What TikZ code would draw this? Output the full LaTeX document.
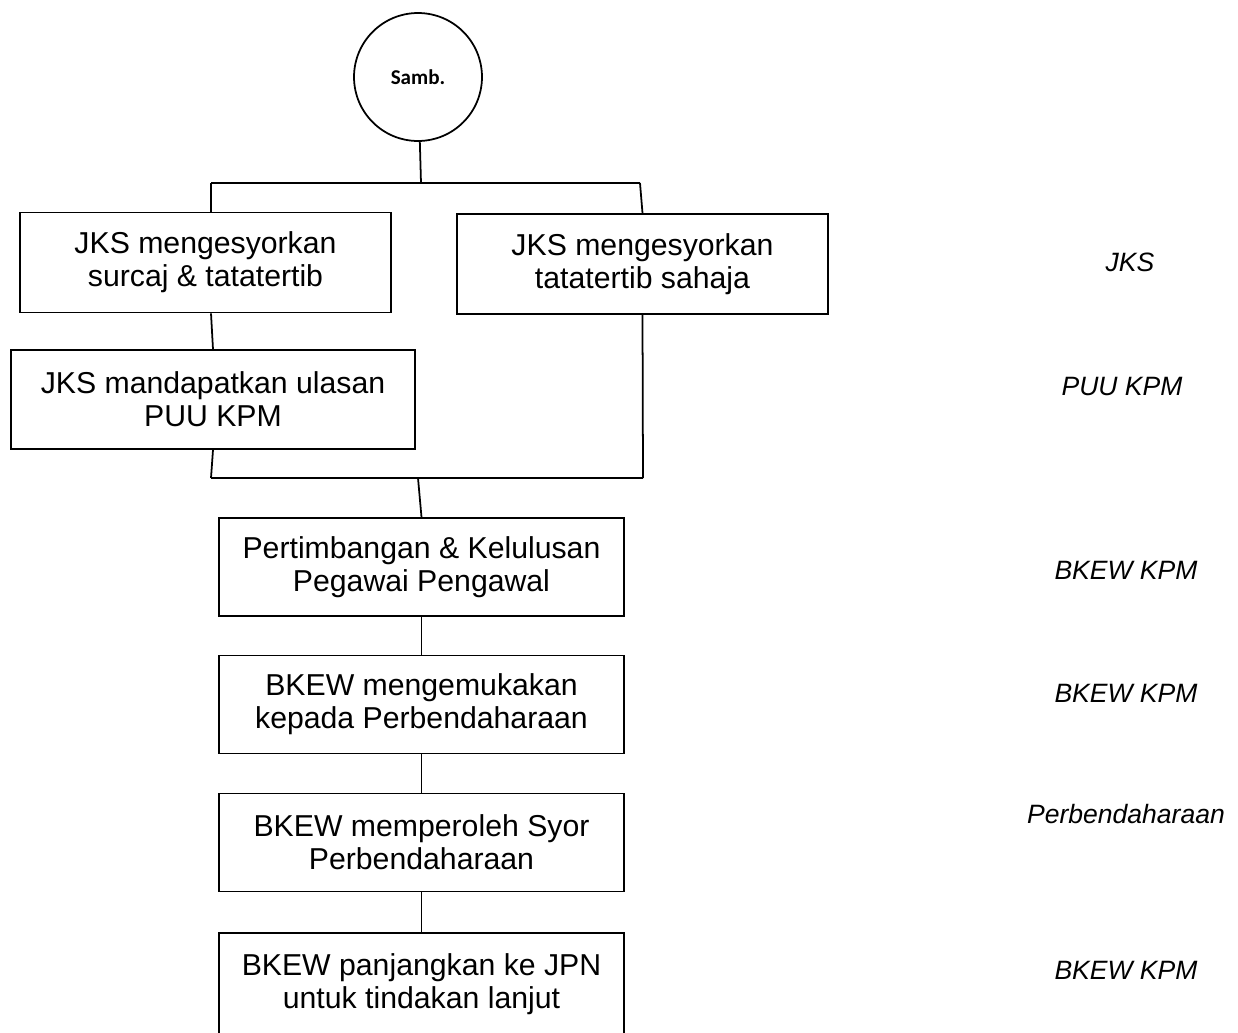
\documentclass[tikz,border=0pt]{standalone}
\usepackage{fontspec}
\setmainfont{Liberation Sans}
\newfontfamily\sambfont{Carlito}
\begin{document}
\begin{tikzpicture}[x=0.02cm, y=-0.02cm, line width=1pt,
  every node/.style={font=\fontsize{17.2}{18.7}\selectfont},
  stepbox/.style={draw, rectangle, align=center, minimum width=8.1cm, minimum height=1.96cm, inner sep=0pt},
  who/.style={font=\fontsize{15.1}{17}\selectfont\itshape}]
\clip (0,0) rectangle (1238,1032);
\node[circle, draw, minimum size=2.56cm, inner sep=0pt, font=\sambfont\bfseries\fontsize{12}{14}\selectfont] (samb) at (418,77){Samb.};
\node[stepbox, minimum width=7.42cm, minimum height=2cm] (jks1) at (205.5,262.5){JKS mengesyorkan\\surcaj \& tatatertib};
\node[stepbox, minimum width=7.42cm, minimum height=2cm] (jks2) at (642.5,264){JKS mengesyorkan\\tatatertib sahaja};
\node[stepbox, minimum width=8.08cm, minimum height=1.98cm] (puu) at (213,399.5){JKS mandapatkan ulasan\\PUU KPM};
\node[stepbox] (pp) at (421.5,567){Pertimbangan \& Kelulusan\\Pegawai Pengawal};
\node[stepbox] (kemuka) at (421.5,704.5){BKEW mengemukakan\\kepada Perbendaharaan};
\node[stepbox] (syor) at (421.5,842.5){BKEW memperoleh Syor\\Perbendaharaan};
\node[stepbox, minimum height=2.04cm] (jpn) at (421.5,984){BKEW panjangkan ke JPN\\untuk tindakan lanjut};
% pihak
\node[who] (w1) at (1130,262){JKS};
\node[who] (w2) at (1122,386){PUU KPM};
\node[who] (w3) at (1126,570){BKEW KPM};
\node[who] (w4) at (1126,693){BKEW KPM};
\node[who] (w5) at (1126,814){Perbendaharaan};
\node[who] (w6) at (1126,970){BKEW KPM};
\coordinate (t0) at (421,183);
\coordinate (tl) at (211,183);
\coordinate (tr) at (640,183);
\coordinate (bl) at (211,478);
\coordinate (br) at (643,478);
\coordinate (b0) at (418,478);
\draw (samb) -- (t0);
\draw (tl) -- (tr);
\draw (tl) -- (jks1.north -| tl);
\draw (tr) -- (jks2.north);
\draw (jks1.south -| tl) -- (puu.north);
\draw (puu.south) -- (bl);
\draw (jks2.south) -- (br);
\draw (bl) -- (br);
\draw (b0) -- (pp.north);
\draw (pp) -- (kemuka);
\draw (kemuka) -- (syor);
\draw (syor) -- (jpn);
\end{tikzpicture}
\end{document}
